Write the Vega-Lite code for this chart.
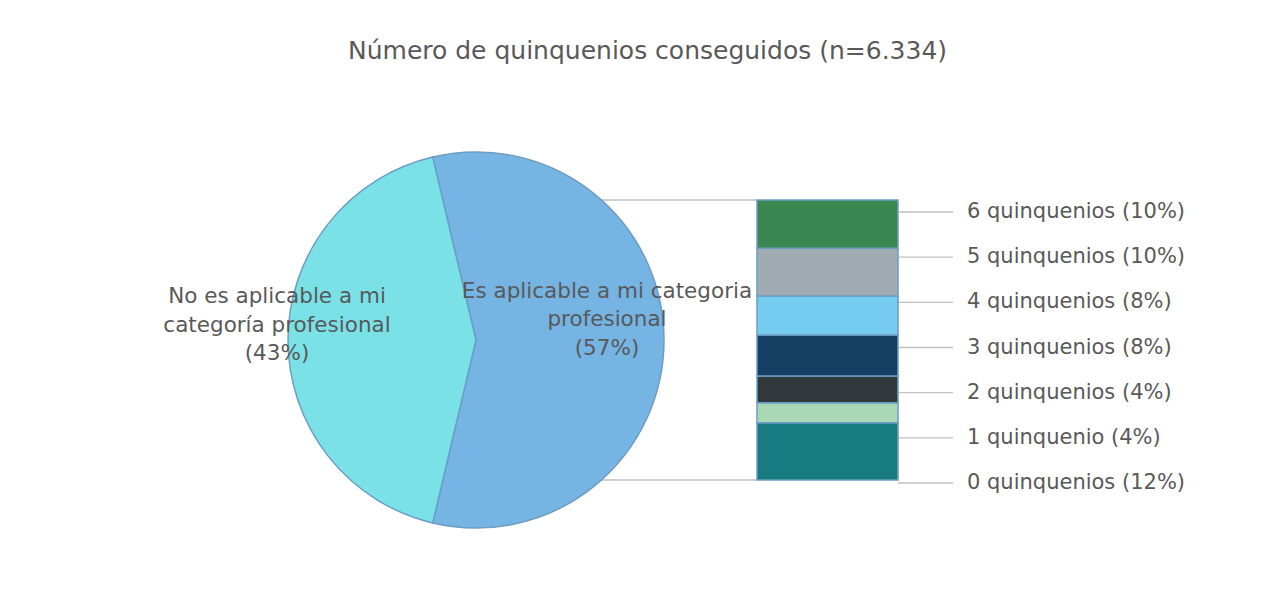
{
  "$schema": "https://vega.github.io/schema/vega-lite/v6.json",
  "width": 944,
  "height": 528,
  "autosize": {"type": "none"},
  "padding": {"left": 4, "top": 76, "right": 335, "bottom": 0},
  "background": "white",
  "title": {
    "text": "Número de quinquenios conseguidos (n=6.334)",
    "font": "DejaVu Sans",
    "fontSize": 25,
    "fontWeight": "normal",
    "color": "#595959",
    "anchor": "start",
    "baseline": "alphabetic",
    "offset": -8,
    "dx": 344
  },
  "config": {
    "view": {"stroke": null},
    "axis": {"disable": true}
  },
  "datasets": {
    "sector": [
      {"categoria": "Es aplicable a mi categoria profesional", "pct": 57.4, "etiqueta": "Es aplicable a mi categoria\nprofesional\n(57%)"},
      {"categoria": "No es aplicable a mi categoría profesional", "pct": 42.6, "etiqueta": "No es aplicable a mi\ncategoría profesional\n(43%)"}
    ],
    "quinquenios": [
      {"categoria": "0 quinquenios", "n": 0, "grafico": "Quinquenios conseguidos", "pct": 11.75, "etiqueta": "0 quinquenios (12%)"},
      {"categoria": "1 quinquenio", "n": 1, "grafico": "Quinquenios conseguidos", "pct": 4.1, "etiqueta": "1 quinquenio (4%)"},
      {"categoria": "2 quinquenios", "n": 2, "grafico": "Quinquenios conseguidos", "pct": 5.45, "etiqueta": "2 quinquenios (4%)"},
      {"categoria": "3 quinquenios", "n": 3, "grafico": "Quinquenios conseguidos", "pct": 8.4, "etiqueta": "3 quinquenios (8%)"},
      {"categoria": "4 quinquenios", "n": 4, "grafico": "Quinquenios conseguidos", "pct": 8.0, "etiqueta": "4 quinquenios (8%)"},
      {"categoria": "5 quinquenios", "n": 5, "grafico": "Quinquenios conseguidos", "pct": 9.8, "etiqueta": "5 quinquenios (10%)"},
      {"categoria": "6 quinquenios", "n": 6, "grafico": "Quinquenios conseguidos", "pct": 9.9, "etiqueta": "6 quinquenios (10%)"}
    ]
  },
  "resolve": {"scale": {"y": "independent"}},
  "layer": [
    {
      "layer": [
        {
          "data": {"name": "quinquenios"},
          "transform": [
            {"stack": "pct", "groupby": ["grafico"], "sort": [{"field": "n", "order": "ascending"}], "as": ["s0", "s1"]},
            {"aggregate": [{"op": "min", "field": "s0", "as": "base"}, {"op": "max", "field": "s1", "as": "cima"}], "groupby": ["grafico"]}
          ],
          "layer": [
            {
              "mark": {"type": "tick", "color": "#a6a6a6", "thickness": 1.3, "size": 200, "xOffset": -170.5},
              "encoding": {
                "x": {"field": "grafico", "type": "nominal", "axis": null},
                "y": {"field": "cima", "type": "quantitative", "axis": null}
              }
            },
            {
              "mark": {"type": "tick", "color": "#a6a6a6", "thickness": 1.3, "size": 200, "xOffset": -170.5},
              "encoding": {
                "x": {"field": "grafico", "type": "nominal", "axis": null},
                "y": {"field": "base", "type": "quantitative", "axis": null}
              }
            }
          ]
        },
        {
          "data": {"name": "sector"},
          "mark": {"type": "arc", "radius": 188, "stroke": "#6c9dc4", "strokeWidth": 1.5},
          "encoding": {
            "theta": {"field": "pct", "type": "quantitative", "stack": true, "scale": {"domain": [0, 100], "range": [-0.2325, 6.0507]}},
            "order": {"field": "categoria", "type": "nominal", "sort": "ascending"},
            "color": {
              "field": "categoria", "type": "nominal", "legend": null,
              "scale": {
                "domain": ["Es aplicable a mi categoria profesional", "No es aplicable a mi categoría profesional", "0 quinquenios", "1 quinquenio", "2 quinquenios", "3 quinquenios", "4 quinquenios", "5 quinquenios", "6 quinquenios"],
                "range": ["#75b4e3", "#7ae2e7", "#177b7f", "#a8d8b4", "#32393c", "#153f62", "#75cbf0", "#a1abb2", "#3b8752"]
              }
            }
          }
        },
        {
          "data": {"name": "sector"},
          "mark": {"type": "text", "radius": 131, "dy": -48, "font": "DejaVu Sans", "fontSize": 21.5, "color": "#595959", "align": "center", "baseline": "middle", "lineBreak": "\n", "lineHeight": 28.5},
          "encoding": {
            "theta": {"field": "pct", "type": "quantitative", "stack": true},
            "order": {"field": "categoria", "type": "nominal", "sort": "ascending"},
            "detail": {"field": "categoria", "type": "nominal"},
            "text": {"condition": {"test": "datum.categoria === 'Es aplicable a mi categoria profesional'", "field": "etiqueta", "type": "nominal"}, "value": ""}
          }
        },
        {
          "data": {"name": "sector"},
          "mark": {"type": "text", "radius": 199, "dy": -43, "font": "DejaVu Sans", "fontSize": 21.5, "color": "#595959", "align": "center", "baseline": "middle", "lineBreak": "\n", "lineHeight": 28.5},
          "encoding": {
            "theta": {"field": "pct", "type": "quantitative", "stack": true},
            "order": {"field": "categoria", "type": "nominal", "sort": "ascending"},
            "detail": {"field": "categoria", "type": "nominal"},
            "text": {"condition": {"test": "datum.categoria === 'No es aplicable a mi categoría profesional'", "field": "etiqueta", "type": "nominal"}, "value": ""}
          }
        },
        {
          "data": {"name": "quinquenios"},
          "mark": {"type": "bar", "stroke": "#6c9dc4", "strokeWidth": 1.5},
          "encoding": {
            "x": {
              "field": "grafico", "type": "nominal", "axis": null,
              "scale": {"type": "band", "domain": ["Quinquenios conseguidos"], "range": [753, 894], "paddingInner": 0, "paddingOuter": 0}
            },
            "y": {"field": "pct", "type": "quantitative", "stack": "zero", "axis": null, "scale": {"domain": [0, 57.4], "range": [404, 124], "nice": false, "zero": false}},
            "order": {"field": "n", "type": "quantitative", "sort": "ascending"},
            "color": {
              "field": "categoria", "type": "nominal", "legend": null,
              "scale": {
                "domain": ["Es aplicable a mi categoria profesional", "No es aplicable a mi categoría profesional", "0 quinquenios", "1 quinquenio", "2 quinquenios", "3 quinquenios", "4 quinquenios", "5 quinquenios", "6 quinquenios"],
                "range": ["#75b4e3", "#7ae2e7", "#177b7f", "#a8d8b4", "#32393c", "#153f62", "#75cbf0", "#a1abb2", "#3b8752"]
              }
            }
          }
        }
      ]
    },
    {
      "data": {"name": "quinquenios"},
      "layer": [
        {
          "mark": {"type": "tick", "color": "#a6a6a6", "thickness": 1.3, "size": 55, "xOffset": 98},
          "encoding": {
            "x": {"field": "grafico", "type": "nominal", "axis": null},
            "y": {"field": "n", "type": "quantitative", "axis": null, "scale": {"domain": [0, 6], "range": [407, 136], "nice": false, "zero": false}}
          }
        },
        {
          "mark": {"type": "text", "dx": 69, "font": "DejaVu Sans", "fontSize": 21, "color": "#595959", "align": "left", "baseline": "middle"},
          "encoding": {
            "x": {"field": "grafico", "type": "nominal", "bandPosition": 1, "axis": null},
            "y": {"field": "n", "type": "quantitative", "axis": null},
            "text": {"field": "etiqueta", "type": "nominal"}
          }
        }
      ]
    }
  ]
}
